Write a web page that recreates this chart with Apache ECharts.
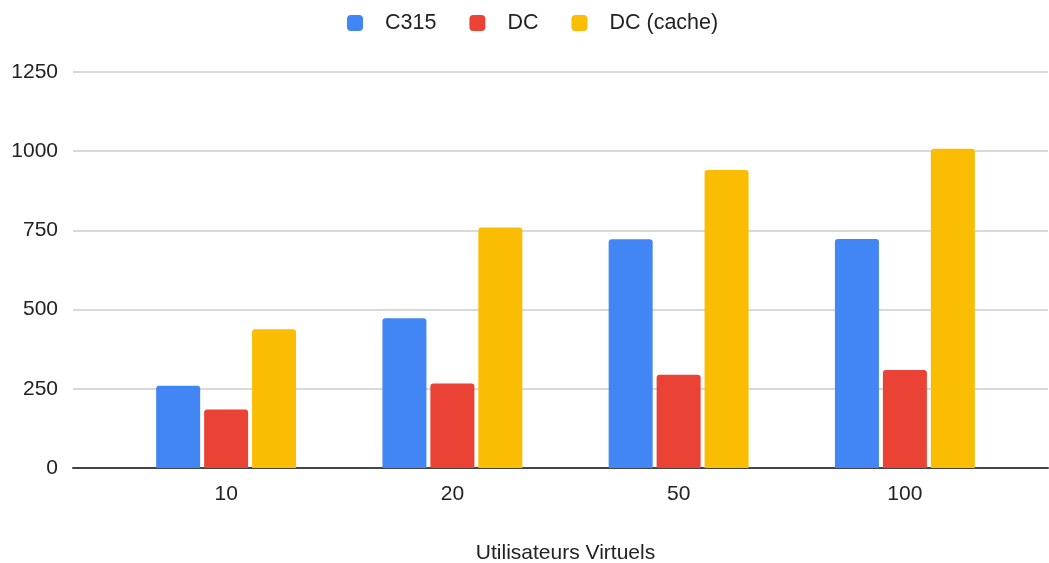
<!DOCTYPE html>
<html>
<head>
<meta charset="utf-8">
<script src="https://cdn.jsdelivr.net/npm/echarts@6/dist/echarts.min.js"></script>
<style>
  html, body { margin: 0; padding: 0; background: #fff; }
  #chart { width: 1049px; height: 563px; }
</style>
</head>
<body>
<div id="chart"></div>
<script>
// Response times per number of virtual users
const categories = ['10', '20', '50', '100'];
const seriesNames = ['C315', 'DC', 'DC (cache)'];
const c315 = [260, 473, 722, 723];
const dc = [185, 267, 294, 309];
const dcCache = [438, 759, 941, 1008];
const yTicks = [0, 250, 500, 750, 1000, 1250];
const xTitle = 'Utilisateurs Virtuels';

const colors = ['#4285F4', '#EA4335', '#FBBC04'];
const font = 'Arial, "Liberation Sans", sans-serif';
const yMin = yTicks[0], yMax = yTicks[yTicks.length - 1], yStep = yTicks[1] - yTicks[0];

const chart = echarts.init(document.getElementById('chart'), null, { renderer: 'canvas' });

const barStyle = (c) => ({ color: c, borderRadius: [3, 3, 0, 0] });

chart.setOption({
  animation: false,
  color: colors,
  textStyle: { fontFamily: font },
  legend: {
    top: 12,
    left: 347,
    padding: 0,
    icon: 'roundRect',
    itemWidth: 16,
    itemHeight: 16,
    itemGap: 33,
    textStyle: { fontSize: 21.5, color: '#222', fontFamily: font, padding: [0, 0, 0, 17] },
    data: seriesNames
  },
  grid: [
    // full-width grid carrying the value axis, gridlines and baseline
    { left: 73, right: 1, top: 72, bottom: 95, outerBoundsMode: 'none' },
    // inner grid where the category bands sit
    { left: 113, right: 31, top: 72, bottom: 95, outerBoundsMode: 'none' }
  ],
  xAxis: [
    {
      gridIndex: 0, type: 'category', data: categories,
      axisLine: { show: true, lineStyle: { color: '#444', width: 2 } },
      axisTick: { show: false }, axisLabel: { show: false }
    },
    {
      gridIndex: 1, type: 'category', data: categories,
      axisLine: { show: false }, axisTick: { show: false },
      axisLabel: { fontSize: 21, color: '#222', margin: 16, fontFamily: font },
      name: xTitle, nameLocation: 'middle', nameGap: 75,
      nameTextStyle: { fontSize: 21, color: '#222', fontFamily: font }
    }
  ],
  yAxis: [
    {
      gridIndex: 0, type: 'value', min: yMin, max: yMax, interval: yStep,
      axisLine: { show: false }, axisTick: { show: false },
      axisLabel: { fontSize: 21, color: '#222', margin: 15, fontFamily: font,
                   formatter: (v) => String(v) },
      splitLine: { lineStyle: { color: '#cccccc', width: 1.5 } }
    },
    {
      gridIndex: 1, type: 'value', min: yMin, max: yMax, interval: yStep,
      show: false, splitLine: { show: false }
    }
  ],
  series: [
    { name: seriesNames[0], type: 'bar', xAxisIndex: 1, yAxisIndex: 1, data: c315,
      barWidth: 44, barGap: '9%', itemStyle: barStyle(colors[0]) },
    { name: seriesNames[1], type: 'bar', xAxisIndex: 1, yAxisIndex: 1, data: dc,
      barWidth: 44, barGap: '9%', itemStyle: barStyle(colors[1]) },
    { name: seriesNames[2], type: 'bar', xAxisIndex: 1, yAxisIndex: 1, data: dcCache,
      barWidth: 44, barGap: '9%', itemStyle: barStyle(colors[2]) }
  ]
});
</script>
</body>
</html>
